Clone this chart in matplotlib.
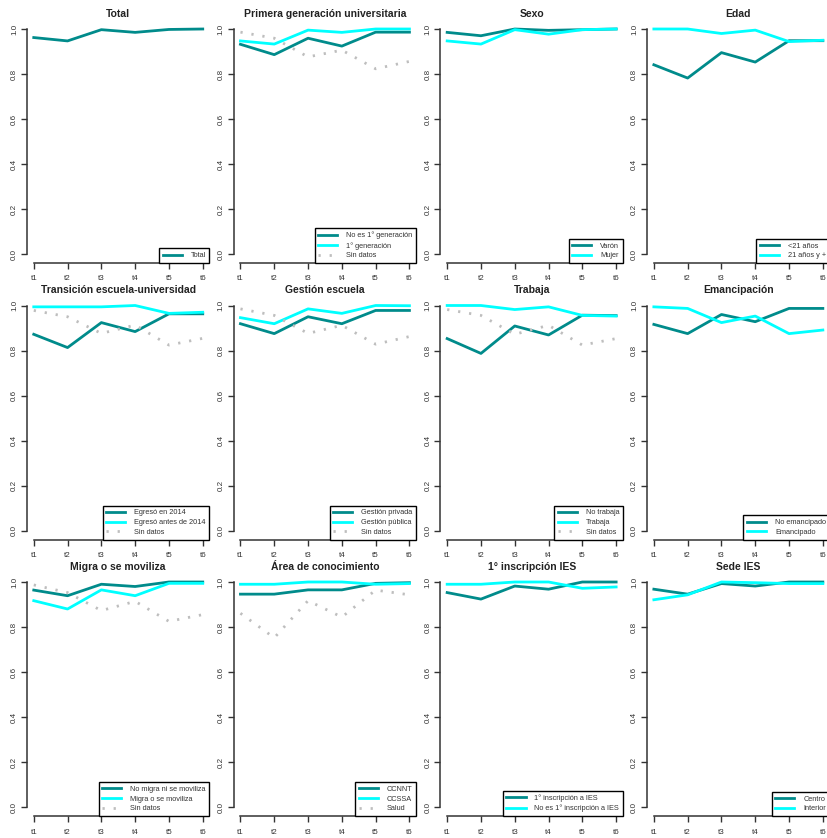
import numpy as np
import matplotlib.pyplot as plt

plt.rcParams['font.family'] = ['Liberation Sans', 'DejaVu Sans']

periodos = ["t1", "t2", "t3", "t4", "t5", "t6"]

# valores (proporcion de continuidad)
total = [0.962, 0.947, 0.997, 0.985, 0.998, 1.0]

pg_no_primera = [0.932, 0.886, 0.959, 0.924, 0.986, 0.986]
pg_primera = [0.947, 0.933, 0.995, 0.985, 1.0, 1.0]
pg_sin_datos = [0.986, 0.959, 0.876, 0.906, 0.823, 0.856]

sexo_varon = [0.985, 0.970, 1.0, 0.994, 0.997, 1.0]
sexo_mujer = [0.947, 0.933, 0.997, 0.977, 0.997, 1.0]

edad_menor21 = [0.841, 0.782, 0.895, 0.853, 0.948, 0.948]
edad_21ymas = [1.0, 1.0, 0.980, 0.995, 0.944, 0.950]

trans_2014 = [0.872, 0.813, 0.924, 0.884, 0.963, 0.963]
trans_antes = [0.994, 0.994, 0.994, 1.0, 0.965, 0.970]
trans_sin_datos = [0.978, 0.950, 0.876, 0.913, 0.824, 0.854]

gest_privada = [0.919, 0.875, 0.950, 0.919, 0.978, 0.978]
gest_publica = [0.946, 0.919, 0.985, 0.965, 1.0, 0.999]
gest_sin_datos = [0.985, 0.956, 0.876, 0.912, 0.828, 0.862]

trab_no = [0.853, 0.787, 0.909, 0.869, 0.957, 0.955]
trab_si = [1.0, 1.0, 0.982, 0.994, 0.956, 0.953]
trab_sin_datos = [0.982, 0.956, 0.872, 0.912, 0.824, 0.853]

eman_no = [0.916, 0.875, 0.960, 0.928, 0.987, 0.987]
eman_si = [0.994, 0.987, 0.924, 0.953, 0.875, 0.891]

migra_no = [0.964, 0.939, 0.990, 0.980, 1.0, 1.0]
migra_si = [0.917, 0.880, 0.965, 0.939, 0.994, 0.994]
migra_sin_datos = [0.987, 0.953, 0.873, 0.914, 0.825, 0.855]

area_ccnnt = [0.946, 0.946, 0.965, 0.965, 0.994, 0.997]
area_ccssa = [0.990, 0.990, 1.0, 1.0, 0.990, 0.993]
area_salud = [0.861, 0.752, 0.917, 0.844, 0.964, 0.943]

insc_primera = [0.953, 0.924, 0.982, 0.968, 1.0, 1.0]
insc_no_primera = [0.990, 0.990, 1.0, 1.0, 0.972, 0.978]

sede_centro = [0.968, 0.946, 0.993, 0.982, 1.0, 1.0]
sede_interior = [0.921, 0.943, 1.0, 0.997, 0.993, 0.993]

teal = "#008B8B"
cian = "#00FFFF"
gris = "#BEBEBE"

paneles = [
    ("Total", [(total, "Total")]),
    ("Primera generación universitaria", [(pg_no_primera, "No es 1° generación"),
                                          (pg_primera, "1° generación"),
                                          (pg_sin_datos, "Sin datos")]),
    ("Sexo", [(sexo_varon, "Varón"), (sexo_mujer, "Mujer")]),
    ("Edad", [(edad_menor21, "<21 años"), (edad_21ymas, "21 años y +")]),
    ("Transición escuela-universidad", [(trans_2014, "Egresó en 2014"),
                                        (trans_antes, "Egresó antes de 2014"),
                                        (trans_sin_datos, "Sin datos")]),
    ("Gestión escuela", [(gest_privada, "Gestión privada"),
                         (gest_publica, "Gestión pública"),
                         (gest_sin_datos, "Sin datos")]),
    ("Trabaja", [(trab_no, "No trabaja"), (trab_si, "Trabaja"),
                 (trab_sin_datos, "Sin datos")]),
    ("Emancipación", [(eman_no, "No emancipado"), (eman_si, "Emancipado")]),
    ("Migra o se moviliza", [(migra_no, "No migra ni se moviliza"),
                             (migra_si, "Migra o se moviliza"),
                             (migra_sin_datos, "Sin datos")]),
    ("Área de conocimiento", [(area_ccnnt, "CCNNT"), (area_ccssa, "CCSSA"),
                              (area_salud, "Salud")]),
    ("1° inscripción IES", [(insc_primera, "1° inscripción a IES"),
                            (insc_no_primera, "No es 1° inscripción a IES")]),
    ("Sede IES", [(sede_centro, "Centro"), (sede_interior, "Interior")]),
]

W, H = 828, 838
fig = plt.figure(figsize=(W / 100, H / 100), dpi=100)

x = np.arange(1, 7)
estilos = [dict(color=teal, lw=2.0), dict(color=cian, lw=2.0),
           dict(color=gris, lw=2.0, ls=(0, (0.8, 3.2)))]

for i, (titulo, series) in enumerate(paneles):
    fila, col = divmod(i, 4)
    izq = 27 + 206.7 * col
    arriba = 20 + 276.5 * fila
    ax = fig.add_axes([izq / W, 1 - (arriba + 243) / H, 182.5 / W, 243 / H])
    ax.patch.set_alpha(0)

    for (valores, etiqueta), est in zip(series, estilos):
        ax.plot(x, valores, label=etiqueta, **est)

    ax.set_xlim(0.8, 6.2)
    ax.set_ylim(-0.04, 1.04)
    ax.set_xticks(x)
    ax.set_xticklabels(periodos)
    ax.set_yticks([0, 0.2, 0.4, 0.6, 0.8, 1.0])
    ax.set_yticklabels(["0.0", "0.2", "0.4", "0.6", "0.8", "1.0"], rotation=90, va="center")
    ax.tick_params(labelsize=5.8, length=4, width=1, colors="#333333")
    ax.tick_params(axis="y", pad=2.5)
    ax.tick_params(axis="x", pad=5)
    for lado in ["top", "right"]:
        ax.spines[lado].set_visible(False)
    ax.spines["left"].set_bounds(0, 1)
    ax.spines["bottom"].set_bounds(1, 6)
    for lado in ["left", "bottom"]:
        ax.spines[lado].set_linewidth(1.1)
        ax.spines[lado].set_color("#333333")

    ax.set_title(titulo, fontsize=7.5, fontweight="bold", pad=2.5, color="#222222")

    leg = ax.legend(loc="lower right", fontsize=5.3, borderaxespad=0,
                    fancybox=False, framealpha=1, edgecolor="black",
                    handlelength=2.6, labelspacing=0.35, borderpad=0.5,
                    handletextpad=1.2)
    leg.get_frame().set_linewidth(1)
    for t in leg.get_texts():
        t.set_color("#333333")

fig.savefig("out.png", dpi=100)
